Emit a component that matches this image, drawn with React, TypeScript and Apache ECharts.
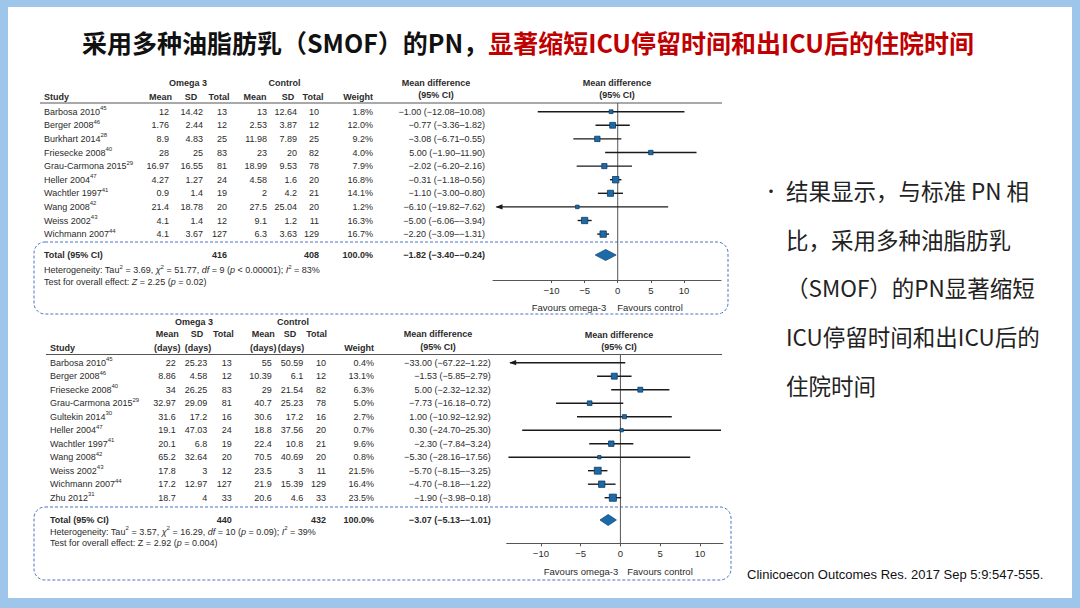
import React, { useEffect, useRef } from "react";
import * as echarts from "echarts";

// ---------- Panel 1: ICU length of stay ----------
const topStudies = ["Barbosa 2010", "Berger 2008", "Burkhart 2014", "Friesecke 2008", "Grau-Carmona 2015", "Heller 2004", "Wachtler 1997", "Wang 2008", "Weiss 2002", "Wichmann 2007"];
const topRefs = ["45", "46", "28", "40", "29", "47", "41", "42", "43", "44"];
const topOmegaMean = [12, 1.76, 8.9, 28, 16.97, 4.27, 0.9, 21.4, 4.1, 4.1];
const topOmegaSD = [14.42, 2.44, 4.83, 25, 16.55, 1.27, 1.4, 18.78, 1.4, 3.67];
const topOmegaN = [13, 12, 25, 83, 81, 24, 19, 20, 12, 127];
const topCtrlMean = [13, 2.53, 11.98, 23, 18.99, 4.58, 2, 27.5, 9.1, 6.3];
const topCtrlSD = [12.64, 3.87, 7.89, 20, 9.53, 1.6, 4.2, 25.04, 1.2, 3.63];
const topCtrlN = [10, 12, 25, 82, 78, 20, 21, 20, 11, 129];
const topWeight = [1.8, 12.0, 9.2, 4.0, 7.9, 16.8, 14.1, 1.2, 16.3, 16.7];
const topMD = [-1.0, -0.77, -3.08, 5.0, -2.02, -0.31, -1.1, -6.1, -5.0, -2.2];
const topLo = [-12.08, -3.36, -6.71, -1.9, -6.2, -1.18, -3.0, -19.82, -6.06, -3.09];
const topHi = [10.08, 1.82, 0.55, 11.9, 2.16, 0.56, 0.8, 7.62, -3.94, -1.31];
const topTotalN = [416, 408];
const topTotal = [-1.82, -3.4, -0.24];

// ---------- Panel 2: hospital length of stay ----------
const botStudies = ["Barbosa 2010", "Berger 2008", "Friesecke 2008", "Grau-Carmona 2015", "Gultekin 2014", "Heller 2004", "Wachtler 1997", "Wang 2008", "Weiss 2002", "Wichmann 2007", "Zhu 2012"];
const botRefs = ["45", "46", "40", "29", "30", "47", "41", "42", "43", "44", "31"];
const botOmegaMean = [22, 8.86, 34, 32.97, 31.6, 19.1, 20.1, 65.2, 17.8, 17.2, 18.7];
const botOmegaSD = [25.23, 4.58, 26.25, 29.09, 17.2, 47.03, 6.8, 32.64, 3, 12.97, 4];
const botOmegaN = [13, 12, 83, 81, 16, 24, 19, 20, 12, 127, 33];
const botCtrlMean = [55, 10.39, 29, 40.7, 30.6, 18.8, 22.4, 70.5, 23.5, 21.9, 20.6];
const botCtrlSD = [50.59, 6.1, 21.54, 25.23, 17.2, 37.56, 10.8, 40.69, 3, 15.39, 4.6];
const botCtrlN = [10, 12, 82, 78, 16, 20, 21, 20, 11, 129, 33];
const botWeight = [0.4, 13.1, 6.3, 5.0, 2.7, 0.7, 9.6, 0.8, 21.5, 16.4, 23.5];
const botMD = [-33.0, -1.53, 5.0, -7.73, 1.0, 0.3, -2.3, -5.3, -5.7, -4.7, -1.9];
const botLo = [-67.22, -5.85, -2.32, -16.18, -10.92, -24.7, -7.84, -28.16, -8.15, -8.18, -3.98];
const botHi = [1.22, 2.79, 12.32, 0.72, 12.92, 25.3, 3.24, 17.56, -3.25, -1.22, 0.18];
const botTotalN = [440, 432];
const botTotal = [-3.07, -5.13, -1.01];
// positions of the marks as drawn in the figure's plot
const botPlotMD = [-16.5, -0.77, 2.5, -3.87, 0.5, 0.15, -1.15, -2.65, -2.85, -2.35, -0.95];
const botPlotLo = [-33.6, -2.93, -1.16, -8.09, -5.46, -12.35, -3.92, -14.08, -4.08, -4.09, -1.99];
const botPlotHi = [0.61, 1.4, 6.16, 0.36, 6.46, 12.65, 1.62, 8.78, -1.63, -0.61, 0.09];
const botPlotTotal = [-1.54, -2.57, -0.51];

const axisTicks = [-10, -5, 0, 5, 10];

const titleBlack = "采用多种油脂肪乳（SMOF）的PN，";
const titleRed = "显著缩短ICU停留时间和出ICU后的住院时间";
const bulletLines = ["结果显示，与标准 PN 相", "比，采用多种油脂肪乳", "（SMOF）的PN显著缩短", "ICU停留时间和出ICU后的", "住院时间"];
const citation = "Clinicoecon Outcomes Res. 2017 Sep 5:9:547-555.";

const FONT = "'Liberation Sans', Arial, sans-serif";
const CJK = "'Noto Sans CJK SC', sans-serif";
const TXT = "#2b2b2b";
const BLUE = "#1d6aa8";

const fmt = (v: number) => (v < 0 ? "−" : "") + Math.abs(v).toFixed(2);
const ci = (m: number, l: number, h: number) => `${fmt(m)} (${fmt(l)}–${fmt(h)})`;
const tick = (v: number) => (v < 0 ? "−" + -v : String(v));

const richBase = {
  n: { fontSize: 9, fontFamily: FONT, fill: TXT, lineHeight: 13 },
  b: { fontSize: 9, fontFamily: FONT, fill: TXT, fontWeight: "bold", lineHeight: 13 },
  i: { fontSize: 9, fontFamily: FONT, fill: TXT, fontStyle: "italic", lineHeight: 13 },
  s: { fontSize: 6, fontFamily: FONT, fill: TXT, lineHeight: 8, verticalAlign: "top" },
};

function txt(text: string, x: number, y: number, align: string, bold = false, size = 9, fill = TXT, font = FONT): any {
  return {
    type: "text",
    x,
    y,
    z: 10,
    silent: true,
    style: { text, fill, fontSize: size, fontFamily: font, fontWeight: bold ? "bold" : "normal", align, verticalAlign: "middle" },
  };
}
function rich(text: string, x: number, y: number, align = "left"): any {
  return {
    type: "text",
    x,
    y,
    z: 10,
    silent: true,
    style: { text, rich: richBase, align, verticalAlign: "middle", fontSize: 9, fontFamily: FONT, fill: TXT },
  };
}

interface Panel {
  gridLeft: number; gridTop: number; gridW: number; gridH: number; xMin: number; xMax: number;
  row0: number; step: number; totalY: number;
}

const P1: Panel = { gridLeft: 493, gridTop: 103, gridW: 228, gridH: 177, xMin: -18.84, xMax: 15.6, row0: 111.7, step: 13.6, totalY: 255 };
const P2: Panel = { gridLeft: 506.7, gridTop: 354.5, gridW: 216.3, gridH: 188.8, xMin: -14.3, xMax: 12.9, row0: 362.7, step: 13.5, totalY: 520 };

function ciSeries(p: Panel, gi: number, md: number[], lo: number[], hi: number[], wt: number[]): any {
  const data = md.map((m, i) => [m, lo[i], hi[i], p.row0 + p.step * i - p.gridTop, wt[i]]);
  return {
    type: "custom",
    xAxisIndex: gi,
    yAxisIndex: gi,
    clip: false,
    silent: true,
    z: 5,
    data,
    renderItem: (params: any, api: any) => {
      const m = api.value(0), l = api.value(1), h = api.value(2), yo = api.value(3), w = api.value(4);
      const y = api.coord([0, yo])[1];
      const xMinPx = api.coord([p.xMin, yo])[0];
      const xMaxPx = api.coord([p.xMax, yo])[0];
      let x1 = api.coord([l, yo])[0];
      let x2 = api.coord([h, yo])[0];
      const children: any[] = [];
      let leftArrow = false, rightArrow = false;
      if (x1 < xMinPx) { x1 = xMinPx + 3.5; leftArrow = true; }
      if (x2 > xMaxPx) { x2 = xMaxPx - 3.5; rightArrow = true; }
      children.push({ type: "line", shape: { x1, y1: y, x2, y2: y }, style: { stroke: "#1a1a1a", lineWidth: 1.4 } });
      if (leftArrow) children.push({ type: "polygon", shape: { points: [[x1 - 1, y], [x1 + 6, y - 2.6], [x1 + 6, y + 2.6]] }, style: { fill: "#1a1a1a" } });
      if (rightArrow) children.push({ type: "polygon", shape: { points: [[x2 + 1, y], [x2 - 6, y - 2.6], [x2 - 6, y + 2.6]] }, style: { fill: "#1a1a1a" } });
      if (m >= p.xMin && m <= p.xMax) {
        const c = api.coord([m, yo]);
        const s = 2.5 + Math.sqrt(w) * 0.95;
        children.push({ type: "rect", shape: { x: c[0] - s / 2, y: c[1] - s / 2, width: s, height: s }, style: { fill: BLUE, stroke: "#0f3a5e", lineWidth: 0.8 } });
      }
      return { type: "group", children };
    },
  };
}

function diamondSeries(p: Panel, gi: number, tot: number[]): any {
  return {
    type: "custom",
    xAxisIndex: gi,
    yAxisIndex: gi,
    clip: false,
    silent: true,
    z: 5,
    data: [[tot[0], tot[1], tot[2], p.totalY - p.gridTop]],
    renderItem: (params: any, api: any) => {
      const yo = api.value(3);
      const c = api.coord([api.value(0), yo]);
      const l = api.coord([api.value(1), yo]);
      const r = api.coord([api.value(2), yo]);
      return {
        type: "polygon",
        shape: { points: [[l[0], c[1]], [c[0], c[1] - 5.5], [r[0], c[1]], [c[0], c[1] + 5.5]] },
        style: { fill: BLUE, stroke: "#134c7a", lineWidth: 0.8 },
      };
    },
  };
}

function zeroLine(p: Panel, gi: number): any {
  return {
    type: "line",
    xAxisIndex: gi,
    yAxisIndex: gi,
    silent: true,
    symbol: "none",
    z: 3,
    lineStyle: { color: "#555", width: 1 },
    data: [[0, 0], [0, p.gridH]],
  };
}

function axes(p: Panel, gi: number) {
  const x = {
    gridIndex: gi,
    type: "value",
    position: "bottom",
    z: 6,
    min: p.xMin,
    max: p.xMax,
    axisLine: { show: true, onZero: false, lineStyle: { color: "#555", width: 1 } },
    axisTick: { show: true, customValues: axisTicks, length: 3, lineStyle: { color: "#555" } },
    axisLabel: { show: true, customValues: axisTicks, fontSize: 9.5, color: TXT, fontFamily: FONT, margin: 5, formatter: (v: number) => tick(v) },
    splitLine: { show: false },
  };
  const y = { gridIndex: gi, type: "value", min: 0, max: p.gridH, inverse: true, show: false };
  return { x, y };
}

function buildOption() {
  const g: any[] = [];
  // white page inside the blue frame (frame colour = backgroundColor)
  g.push({ type: "rect", z: -10, silent: true, shape: { x: 8, y: 7, width: 1064, height: 591 }, style: { fill: "#ffffff" } });

  // title
  g.push({
    type: "text", x: 82, y: 42, z: 10, silent: true,
    style: {
      text: `{k|${titleBlack}}{r|${titleRed}}`,
      verticalAlign: "middle",
      rich: {
        k: { fill: "#111", fontSize: 25, fontWeight: "bold", fontFamily: CJK },
        r: { fill: "#c00000", fontSize: 25, fontWeight: "bold", fontFamily: CJK },
      },
    },
  });

  // right bullet text
  g.push(txt("•", 771, 190, "center", false, 16, "#222", CJK));
  bulletLines.forEach((l, i) => g.push(txt(l, 786, 190 + 48.7 * i, "left", false, 22.5, "#222", CJK)));
  g.push(txt(citation, 747, 574, "left", false, 13, "#111", FONT));

  // dashed boxes
  g.push({ type: "rect", z: 2, silent: true, shape: { x: 34, y: 242, width: 694, height: 72, r: 11 }, style: { fill: "none", stroke: "#4a72c4", lineWidth: 1, lineDash: [3, 2] } });
  g.push({ type: "rect", z: 2, silent: true, shape: { x: 34, y: 507, width: 697, height: 73, r: 11 }, style: { fill: "none", stroke: "#4a72c4", lineWidth: 1, lineDash: [3, 2] } });

  // ---- panel 1 table ----
  {
    const p = P1;
    g.push(txt("Omega 3", 188, 83, "center", true));
    g.push(txt("Control", 284.5, 83, "center", true));
    g.push(txt("Mean difference", 436, 83, "center", true));
    g.push(txt("(95% CI)", 436, 95, "center", true));
    g.push(txt("Mean difference", 617, 83, "center", true));
    g.push(txt("(95% CI)", 617, 95, "center", true));
    const hy = 97;
    g.push(txt("Study", 44, hy, "left", true));
    g.push(txt("Mean", 160.5, hy, "center", true));
    g.push(txt("SD", 191, hy, "center", true));
    g.push(txt("Total", 219, hy, "center", true));
    g.push(txt("Mean", 255, hy, "center", true));
    g.push(txt("SD", 288, hy, "center", true));
    g.push(txt("Total", 313, hy, "center", true));
    g.push(txt("Weight", 373, hy, "right", true));
    g.push({ type: "line", z: 4, silent: true, shape: { x1: 40, y1: p.gridTop, x2: 722, y2: p.gridTop }, style: { stroke: "#555", lineWidth: 1 } });
    topStudies.forEach((s, i) => {
      const y = p.row0 + p.step * i;
      g.push(rich(`{n|${s}}{s|${topRefs[i]}}`, 44, y));
      g.push(txt(String(topOmegaMean[i]), 169, y, "right"));
      g.push(txt(String(topOmegaSD[i]), 203, y, "right"));
      g.push(txt(String(topOmegaN[i]), 227, y, "right"));
      g.push(txt(String(topCtrlMean[i]), 267, y, "right"));
      g.push(txt(String(topCtrlSD[i]), 297, y, "right"));
      g.push(txt(String(topCtrlN[i]), 319, y, "right"));
      g.push(txt(topWeight[i].toFixed(1) + "%", 373, y, "right"));
      g.push(txt(ci(topMD[i], topLo[i], topHi[i]), 485, y, "right"));
    });
    const ty = p.totalY;
    g.push(txt("Total (95% CI)", 44, ty, "left", true));
    g.push(txt(String(topTotalN[0]), 227, ty, "right", true));
    g.push(txt(String(topTotalN[1]), 319, ty, "right", true));
    g.push(txt("100.0%", 373, ty, "right", true));
    g.push(txt(ci(topTotal[0], topTotal[1], topTotal[2]), 485, ty, "right", true));
    g.push(rich("{n|Heterogeneity: Tau}{s|2}{n| = 3.69, }{i|χ}{s|2}{n| = 51.77, }{i|df}{n| = 9 (}{i|p}{n| < 0.00001); }{i|I}{s|2}{n| = 83%}", 44, 270));
    g.push(rich("{n|Test for overall effect: }{i|Z}{n| = 2.25 (}{i|p}{n| = 0.02)}", 44, 282));
    g.push(txt("Favours omega-3", 569, 307, "center", false, 9.5));
    g.push(txt("Favours control", 650, 307, "center", false, 9.5));
  }

  // ---- panel 2 table ----
  {
    const p = P2;
    g.push(txt("Omega 3", 194, 321.7, "center", true));
    g.push(txt("Control", 293, 321.7, "center", true));
    g.push(txt("Mean", 167.3, 334, "center", true));
    g.push(txt("SD", 197, 334, "center", true));
    g.push(txt("Total", 223.3, 334, "center", true));
    g.push(txt("Mean", 263.3, 334, "center", true));
    g.push(txt("SD", 290, 334, "center", true));
    g.push(txt("Total", 316.7, 334, "center", true));
    g.push(txt("Mean difference", 438, 334, "center", true));
    g.push(txt("(95% CI)", 438, 346.7, "center", true));
    g.push(txt("Mean difference", 619, 335, "center", true));
    g.push(txt("(95% CI)", 619, 346.5, "center", true));
    g.push(txt("Study", 50, 347.7, "left", true));
    g.push(txt("(days)", 167.3, 347.7, "center", true));
    g.push(txt("(days)", 198, 347.7, "center", true));
    g.push(txt("(days)", 263.3, 347.7, "center", true));
    g.push(txt("(days)", 291, 347.7, "center", true));
    g.push(txt("Weight", 374, 347.7, "right", true));
    g.push({ type: "line", z: 4, silent: true, shape: { x1: 46, y1: p.gridTop, x2: 722, y2: p.gridTop }, style: { stroke: "#555", lineWidth: 1 } });
    botStudies.forEach((s, i) => {
      const y = p.row0 + p.step * i;
      g.push(rich(`{n|${s}}{s|${botRefs[i]}}`, 50, y));
      g.push(txt(String(botOmegaMean[i]), 175.7, y, "right"));
      g.push(txt(String(botOmegaSD[i]), 207.3, y, "right"));
      g.push(txt(String(botOmegaN[i]), 231.7, y, "right"));
      g.push(txt(String(botCtrlMean[i]), 271.7, y, "right"));
      g.push(txt(String(botCtrlSD[i]), 303.3, y, "right"));
      g.push(txt(String(botCtrlN[i]), 326, y, "right"));
      g.push(txt(botWeight[i].toFixed(1) + "%", 374, y, "right"));
      g.push(txt(ci(botMD[i], botLo[i], botHi[i]), 490.7, y, "right"));
    });
    const ty = p.totalY;
    g.push(txt("Total (95% CI)", 50, ty, "left", true));
    g.push(txt(String(botTotalN[0]), 231.7, ty, "right", true));
    g.push(txt(String(botTotalN[1]), 326, ty, "right", true));
    g.push(txt("100.0%", 374, ty, "right", true));
    g.push(txt(ci(botTotal[0], botTotal[1], botTotal[2]), 490.7, ty, "right", true));
    g.push(rich("{n|Heterogeneity: Tau}{s|2}{n| = 3.57, }{i|χ}{s|2}{n| = 16.29, }{i|df}{n| = 10 (}{i|p}{n| = 0.09); }{i|I}{s|2}{n| = 39%}", 50, 531.5));
    g.push(rich("{n|Test for overall effect: Z = 2.92 (}{i|p}{n| = 0.004)}", 50, 543));
    g.push(txt("Favours omega-3", 581, 571.5, "center", false, 9.5));
    g.push(txt("Favours control", 660, 571.5, "center", false, 9.5));
  }

  const a1 = axes(P1, 0);
  const a2 = axes(P2, 1);

  return {
    animation: false,
    backgroundColor: "#9dc6ea",
    grid: [
      { left: P1.gridLeft, top: P1.gridTop, width: P1.gridW, height: P1.gridH, containLabel: false },
      { left: P2.gridLeft, top: P2.gridTop, width: P2.gridW, height: P2.gridH, containLabel: false },
    ],
    xAxis: [a1.x, a2.x],
    yAxis: [a1.y, a2.y],
    graphic: { elements: g },
    series: [
      zeroLine(P1, 0),
      zeroLine(P2, 1),
      ciSeries(P1, 0, topMD, topLo, topHi, topWeight),
      ciSeries(P2, 1, botPlotMD, botPlotLo, botPlotHi, botWeight),
      diamondSeries(P1, 0, topTotal),
      diamondSeries(P2, 1, botPlotTotal),
    ],
  };
}

export default function App() {
  const ref = useRef<HTMLDivElement>(null);
  useEffect(() => {
    if (!ref.current) return;
    const chart = echarts.init(ref.current, null, { renderer: "svg", width: 1080, height: 608 });
    chart.setOption(buildOption() as any);
    return () => chart.dispose();
  }, []);
  return <div ref={ref} style={{ position: "fixed", left: 0, top: 0, width: 1080, height: 608, background: "#fff" }} />;
}
